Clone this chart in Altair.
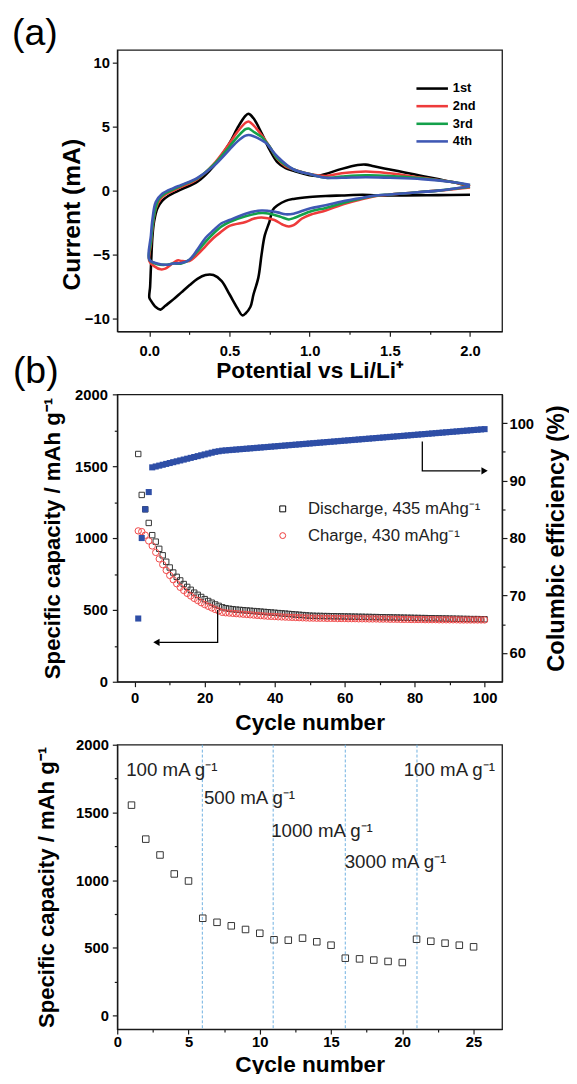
import altair as alt
import pandas as pd

FONT = "Liberation Sans"

# ---------------- (a) cyclic voltammetry ----------------
cycle_names = ["1st", "2nd", "3rd", "4th"]
cycle_colors = ["#000000", "#ee3b3b", "#14a04a", "#3f58b4"]

V1 = [2.0, 1.8, 1.6, 1.5, 1.4, 1.33, 1.2, 1.1, 1.0, 0.9, 0.85, 0.8, 0.77, 0.75, 0.72, 0.7, 0.68, 0.65, 0.63, 0.6,
      0.58, 0.55, 0.5, 0.45, 0.4, 0.35, 0.3, 0.25, 0.2, 0.15, 0.1, 0.07, 0.04, 0.01, 0.0,
      0.005, 0.01, 0.02, 0.03, 0.05, 0.08, 0.12, 0.2, 0.3, 0.4, 0.5, 0.55, 0.6, 0.62, 0.65, 0.7, 0.75, 0.8,
      0.85, 0.9, 1.0, 1.05, 1.1, 1.2, 1.3, 1.35, 1.4, 1.5, 1.6, 1.7, 1.8, 1.9, 2.0]
I1 = [-0.33, -0.35, -0.37, -0.38, -0.36, -0.33, -0.38, -0.42, -0.5, -0.65, -0.8, -1.15, -1.5, -2.4, -3.5, -5.0,
      -6.8, -8.1, -9.1, -9.6, -9.75, -9.2, -8.1, -7.05, -6.6, -6.6, -6.9, -7.4, -7.95, -8.5, -9.0, -9.3, -9.1,
      -8.6, -8.35,
      -7.5, -6.0, -3.5, -2.4, -1.4, -0.8, -0.4, 0.1, 0.7, 1.9, 3.7, 4.9, 5.85, 6.0, 5.65, 4.5, 3.2, 2.2, 1.75,
      1.55, 1.2, 1.15, 1.3, 1.7, 2.0, 2.03, 1.9, 1.65, 1.4, 1.15, 0.9, 0.65, 0.33]

V2 = [2.0, 1.8, 1.6, 1.5, 1.4, 1.3, 1.2, 1.1, 1.0, 0.95, 0.9, 0.87, 0.83, 0.78, 0.7, 0.65, 0.6, 0.5, 0.45, 0.4,
      0.35, 0.3, 0.25, 0.2, 0.18, 0.15, 0.1, 0.07, 0.03, 0.0,
      0.01, 0.02, 0.04, 0.07, 0.1, 0.15, 0.2, 0.3, 0.4, 0.5, 0.55, 0.6, 0.62, 0.65, 0.7, 0.75, 0.8, 0.85, 0.9,
      1.0, 1.1, 1.2, 1.35, 1.5, 1.7, 1.9, 2.0]
I2 = [0.25, 0.0, -0.2, -0.3, -0.45, -0.75, -1.1, -1.55, -1.9, -2.2, -2.7, -2.8, -2.65, -2.3, -2.1, -2.2, -2.45,
      -2.75, -3.2, -3.7, -4.35, -5.0, -5.5, -5.5, -5.45, -5.65, -6.1, -6.15, -5.9, -5.5,
      -4.2, -2.9, -1.4, -0.65, -0.3, 0.0, 0.3, 0.9, 2.05, 3.7, 4.6, 5.3, 5.4, 5.1, 4.35, 3.45, 2.45, 1.9, 1.65,
      1.3, 1.15, 1.35, 1.5, 1.35, 1.0, 0.65, 0.33]

V3 = [2.0, 1.8, 1.6, 1.5, 1.4, 1.3, 1.2, 1.1, 1.0, 0.9, 0.87, 0.82, 0.75, 0.7, 0.6, 0.5, 0.45, 0.4, 0.35, 0.3,
      0.25, 0.2, 0.15, 0.1, 0.05, 0.0,
      0.01, 0.03, 0.06, 0.1, 0.15, 0.2, 0.3, 0.4, 0.5, 0.55, 0.6, 0.62, 0.65, 0.7, 0.75, 0.8, 0.9, 1.0, 1.1,
      1.2, 1.35, 1.5, 1.7, 1.9, 2.0]
I3 = [0.3, 0.0, -0.2, -0.3, -0.42, -0.68, -1.0, -1.35, -1.65, -2.15, -2.25, -2.05, -1.8, -1.75, -2.0, -2.45,
      -2.8, -3.35, -4.0, -4.75, -5.4, -5.7, -5.7, -5.8, -5.75, -5.4,
      -4.0, -1.9, -0.65, -0.2, 0.1, 0.4, 0.95, 2.0, 3.45, 4.2, 4.8, 4.85, 4.6, 4.2, 3.45, 2.5, 1.65, 1.3, 1.0,
      1.1, 1.2, 1.15, 0.97, 0.65, 0.4]

V4 = [2.0, 1.8, 1.6, 1.5, 1.4, 1.3, 1.2, 1.1, 1.0, 0.9, 0.85, 0.8, 0.75, 0.7, 0.6, 0.5, 0.45, 0.4, 0.35, 0.3,
      0.25, 0.2, 0.15, 0.1, 0.05, 0.0,
      0.01, 0.02, 0.04, 0.08, 0.15, 0.2, 0.3, 0.4, 0.5, 0.55, 0.6, 0.62, 0.65, 0.7, 0.73, 0.75, 0.8, 0.9, 1.0,
      1.1, 1.2, 1.35, 1.5, 1.7, 1.9, 2.0]
I4 = [0.35, 0.0, -0.2, -0.3, -0.4, -0.62, -0.85, -1.15, -1.4, -1.8, -1.85, -1.7, -1.6, -1.55, -1.8, -2.3,
      -2.55, -3.1, -3.7, -4.6, -5.4, -5.65, -5.7, -5.8, -5.7, -5.4,
      -3.5, -2.2, -0.9, -0.25, 0.2, 0.45, 1.0, 1.9, 3.2, 3.85, 4.3, 4.35, 4.25, 3.95, 3.7, 3.4, 2.65, 1.65, 1.3,
      1.0, 1.0, 1.05, 1.0, 0.9, 0.65, 0.45]

# ---------------- (b) cycling ----------------
cycles_b = list(range(1, 101))
discharge = [1585, 1300, 1200, 1105, 1020, 975, 925, 880, 835, 795,
             760, 730, 705, 680, 660, 640, 620, 605, 590, 575,
             562, 550, 538, 528, 518, 512, 508, 505, 502, 500,
             498, 496, 494, 492, 490, 488, 486, 484, 482, 480,
             478, 476, 474, 472, 470, 468, 466, 464, 462, 460,
             459, 458, 458, 457, 457, 456, 456, 455, 455, 454,
             454, 453, 453, 452, 452, 451, 451, 450, 450, 449,
             449, 448, 448, 447, 447, 446, 446, 445, 445, 444,
             444, 443, 443, 442, 442, 441, 441, 440, 440, 439,
             439, 438, 438, 437, 437, 436, 436, 436, 435, 435]
charge = [1050, 1045, 1020, 980, 945, 900, 855, 815, 775, 740,
          710, 682, 657, 635, 615, 597, 580, 565, 550, 537,
          525, 514, 503, 493, 483, 480, 478, 476, 474, 472,
          470, 468, 466, 464, 462, 460, 458, 456, 455, 454,
          452, 451, 450, 449, 448, 447, 446, 445, 444, 443,
          443, 442, 442, 442, 441, 441, 441, 440, 440, 440,
          439, 439, 439, 438, 438, 438, 437, 437, 437, 436,
          436, 436, 435, 435, 435, 434, 434, 434, 433, 433,
          433, 433, 432, 432, 432, 432, 431, 431, 431, 431,
          431, 431, 430, 430, 430, 430, 430, 430, 430, 430]
efficiency = [66.0, 80.0, 85.0, 88.0, 92.3, 92.45, 92.6, 92.75, 92.9, 93.05,
              93.2, 93.35, 93.5, 93.65, 93.8, 93.95, 94.1, 94.25, 94.4, 94.55,
              94.7, 94.85, 95.0, 95.1, 95.2, 95.25, 95.3, 95.35, 95.4, 95.45,
              95.5, 95.55, 95.6, 95.65, 95.7, 95.75, 95.8, 95.85, 95.9, 95.95,
              96.0, 96.05, 96.1, 96.15, 96.2, 96.25, 96.3, 96.35, 96.4, 96.45,
              96.5, 96.55, 96.6, 96.65, 96.7, 96.75, 96.8, 96.85, 96.9, 96.95,
              97.0, 97.05, 97.1, 97.15, 97.2, 97.25, 97.3, 97.35, 97.4, 97.45,
              97.5, 97.55, 97.6, 97.65, 97.7, 97.75, 97.8, 97.85, 97.9, 97.95,
              98.0, 98.05, 98.1, 98.15, 98.2, 98.25, 98.3, 98.35, 98.4, 98.45,
              98.5, 98.55, 98.6, 98.65, 98.7, 98.75, 98.8, 98.85, 98.9, 98.95]
legend_b_labels = ["Discharge, 435 mAhg\u207b\u00b9", "Charge, 430 mAhg\u207b\u00b9"]
legend_b_cap = [1203, 1017]

# ---------------- (c) rate capability ----------------
cycles_c = list(range(1, 26))
rate_cap = [1554, 1303, 1186, 1046, 994, 719, 689, 663, 636, 608, 560, 557, 572, 545, 520,
            424, 419, 410, 400, 392, 564, 549, 535, 520, 508]
rate_bounds = [5.97, 10.94, 16.0, 21.03]
rate_labels = ["100 mA g\u207b\u00b9", "500 mA g\u207b\u00b9", "1000 mA g\u207b\u00b9",
               "3000 mA g\u207b\u00b9", "100 mA g\u207b\u00b9"]
rate_label_x = [0.63, 6.08, 10.8, 15.96, 20.1]
rate_label_y = [1815, 1607, 1362, 1136, 1811]

W = 391
HA, HB, HC = 286, 292, 289


def mk_axis(values, major, title, fmt=None, label_pad=3, title_pad=4, title_size=21, **kw):
    args = dict(values=values, title=title, labelPadding=label_pad, titlePadding=title_pad,
                titleFontSize=title_size, labelFlush=False, labelOverlap=False, grid=False,
                tickSize={"condition": {"test": major, "value": 5}, "value": 3},
                labelExpr=f"({major}) ? datum.label : ''")
    if fmt:
        args["format"] = fmt
    args.update(kw)
    return alt.Axis(**args)


# ---- panel a ----
rows = []
for name, vs, cs in zip(cycle_names, [V1, V2, V3, V4], [I1, I2, I3, I4]):
    for k, (v, c) in enumerate(zip(vs, cs)):
        rows.append({"cycle": name, "V": v, "I": c, "k": k})
cv_df = pd.DataFrame(rows)

ax_ax = mk_axis([0, 0.25, 0.5, 0.75, 1.0, 1.25, 1.5, 1.75, 2.0],
                "abs(datum.value*2 - round(datum.value*2)) < 0.001",
                "Potential vs Li/Li\u207a", fmt=".1f", label_pad=8, title_pad=1, title_size=23)
ax_ay = mk_axis([-10, -5, 0, 5, 10], "true", "Current (mA)", fmt="d", label_pad=3, title_pad=0,
                title_size=25, titleY=167)

lines = alt.Chart(cv_df).mark_line(strokeWidth=2.6, interpolate="catmull-rom").encode(
    x=alt.X("V:Q", scale=alt.Scale(domain=[-0.2, 2.2], nice=False, zero=False), axis=ax_ax),
    y=alt.Y("I:Q", scale=alt.Scale(domain=[-11, 11], nice=False, zero=False), axis=ax_ay),
    color=alt.Color("cycle:N", scale=alt.Scale(domain=cycle_names, range=cycle_colors), legend=None),
    order="k:Q",
)

a_layers = [lines]
for r, (name, col) in enumerate(zip(cycle_names, cycle_colors)):
    yy = 39.3 + 17.9 * r
    ldf = pd.DataFrame({"t": [name]})
    a_layers.append(alt.Chart(ldf).mark_rule(color=col, strokeWidth=2.6).encode(
        x=alt.value(304), x2=alt.value(336), y=alt.value(yy)))
    a_layers.append(alt.Chart(ldf).mark_text(align="left", baseline="middle", font=FONT, fontWeight="bold",
                                             fontSize=13, color="black").encode(
        x=alt.value(341), y=alt.value(yy), text="t:N"))
a_layers.append(alt.Chart(pd.DataFrame({"t": ["(a)"]})).mark_text(
    align="left", baseline="top", font=FONT, fontSize=38, color="black").encode(
    x=alt.value(-107), y=alt.value(-34.5), text="t:N"))
panel_a = alt.layer(*a_layers).properties(width=W, height=HA)

# ---- panel b ----
ax_bx = mk_axis(list(range(0, 101, 10)), "datum.value % 20 == 0", "Cycle number", fmt="d",
                label_pad=4, title_pad=7, title_size=23)
ax_bl = mk_axis(list(range(0, 2001, 250)), "datum.value % 500 == 0",
                "Specific capacity / mAh g\u207b\u00b9", fmt="d", label_pad=5, title_pad=10, title_size=22.5)
ax_br = mk_axis([60, 65, 70, 75, 80, 85, 90, 95, 100], "datum.value % 10 == 0",
                "Columbic efficiency (%)", fmt="d", label_pad=2, title_pad=11, title_size=24,
                orient="right", titleAngle=270, titleBaseline="top")

xb = alt.X("cycle:Q", scale=alt.Scale(domain=[-5, 105], nice=False, zero=False), axis=ax_bx)
ybl = alt.Y("cap:Q", scale=alt.Scale(domain=[0, 2000], nice=False, zero=False), axis=ax_bl)
ybr = alt.Y("ce:Q", scale=alt.Scale(domain=[55, 105], nice=False, zero=False), axis=ax_br)

dis_df = pd.DataFrame({"cycle": cycles_b, "cap": discharge})
chg_df = pd.DataFrame({"cycle": cycles_b, "cap": charge})
eff_df = pd.DataFrame({"cycle": cycles_b, "ce": efficiency})

dis_pts = alt.Chart(dis_df).mark_point(shape="square", filled=False, size=30, strokeWidth=1,
                                        color="#333333", opacity=1).encode(x=xb, y=ybl)
chg_pts = alt.Chart(chg_df).mark_point(shape="circle", filled=False, size=42, strokeWidth=1,
                                        color="#f04848", opacity=1).encode(x=xb, y=ybl)
larrow = alt.Chart(pd.DataFrame({"cycle": [23.7, 23.7, 7.0], "cap": [500, 274, 274], "k": [0, 1, 2]})
                   ).mark_line(color="black", strokeWidth=1.3).encode(x=xb, y=ybl, order="k:Q")
lhead = alt.Chart(pd.DataFrame({"cycle": [6.2], "cap": [274]})).mark_point(
    shape="triangle-left", filled=True, size=55, color="black", opacity=1).encode(x=xb, y=ybl)
leg_sym = alt.Chart(pd.DataFrame({"cycle": [42.3, 42.3], "cap": legend_b_cap, "s": ["d", "c"]})
                    ).mark_point(filled=False, size=36, strokeWidth=1, opacity=1).encode(
    x=xb, y=ybl,
    shape=alt.Shape("s:N", scale=alt.Scale(domain=["d", "c"], range=["square", "circle"]), legend=None),
    color=alt.Color("s:N", scale=alt.Scale(domain=["d", "c"], range=["#333333", "#f04848"]), legend=None))
leg_txt = alt.Chart(pd.DataFrame({"cycle": [49.5, 49.5], "cap": legend_b_cap, "t": legend_b_labels})
                    ).mark_text(align="left", baseline="middle", font=FONT, fontSize=17,
                                color="#222222").encode(x=xb, y=ybl, text="t:N")
b_label = alt.Chart(pd.DataFrame({"t": ["(b)"]})).mark_text(
    align="left", baseline="top", font=FONT, fontSize=38, color="black").encode(
    x=alt.value(-106), y=alt.value(-42), text="t:N")

left_group = alt.layer(dis_pts, chg_pts, larrow, lhead, leg_sym, leg_txt, b_label)

eff_pts = alt.Chart(eff_df).mark_point(shape="square", filled=True, size=38, color="#2e4ea6",
                                        opacity=1).encode(x=xb, y=ybr)
rarrow = alt.Chart(pd.DataFrame({"cycle": [82.2, 82.2, 98.8], "ce": [96.8, 91.7, 91.7], "k": [0, 1, 2]})
                   ).mark_line(color="black", strokeWidth=1.3).encode(x=xb, y=ybr, order="k:Q")
rhead = alt.Chart(pd.DataFrame({"cycle": [100.0], "ce": [91.7]})).mark_point(
    shape="triangle-right", filled=True, size=55, color="black", opacity=1).encode(x=xb, y=ybr)
right_group = alt.layer(eff_pts, rarrow, rhead)

panel_b = alt.layer(left_group, right_group).resolve_scale(y="independent").properties(width=W, height=HB)

# ---- panel c ----
ax_cx = mk_axis([0, 2.5, 5, 7.5, 10, 12.5, 15, 17.5, 20, 22.5, 25], "datum.value % 5 == 0",
                "Cycle number", fmt="d", label_pad=1, title_pad=4, title_size=23)
ax_cy = mk_axis(list(range(0, 2001, 250)), "datum.value % 500 == 0",
                "Specific capacity / mAh g\u207b\u00b9", fmt="d", label_pad=4, title_pad=17, title_size=22.5)
xc = alt.X("cycle:Q", scale=alt.Scale(domain=[0, 27], nice=False, zero=False), axis=ax_cx)
yc = alt.Y("cap:Q", scale=alt.Scale(domain=[-100, 2000], nice=False, zero=False), axis=ax_cy)

vlines = alt.Chart(pd.DataFrame({"cycle": rate_bounds})).mark_rule(
    color="#6fb0e0", strokeWidth=1, strokeDash=[3, 2]).encode(x=xc)
rate_pts = alt.Chart(pd.DataFrame({"cycle": cycles_c, "cap": rate_cap})).mark_point(
    shape="square", filled=False, size=44, strokeWidth=1, color="#333333", opacity=1).encode(x=xc, y=yc)
rate_txt = alt.Chart(pd.DataFrame({"cycle": rate_label_x, "cap": rate_label_y, "t": rate_labels})).mark_text(
    align="left", baseline="middle", font=FONT, fontSize=19, color="#222222").encode(x=xc, y=yc, text="t:N")
panel_c = alt.layer(vlines, rate_pts, rate_txt).properties(width=W, height=HC)

chart = alt.vconcat(panel_a, panel_b, panel_c, spacing=64, bounds="flush").configure_view(
    stroke="#1a1a1a", strokeWidth=1.3
).configure_axis(
    labelFont=FONT, labelFontWeight="bold", labelFontSize=15, labelColor="black",
    titleFont=FONT, titleFontWeight="bold", titleColor="black",
    tickColor="#1a1a1a", domainColor="#1a1a1a", tickWidth=1.2, domainWidth=1.3, grid=False
).properties(padding={"left": 3, "top": -2, "right": 0, "bottom": -12})

chart.save("out.html", embed_options={"renderer": "svg", "actions": False})
